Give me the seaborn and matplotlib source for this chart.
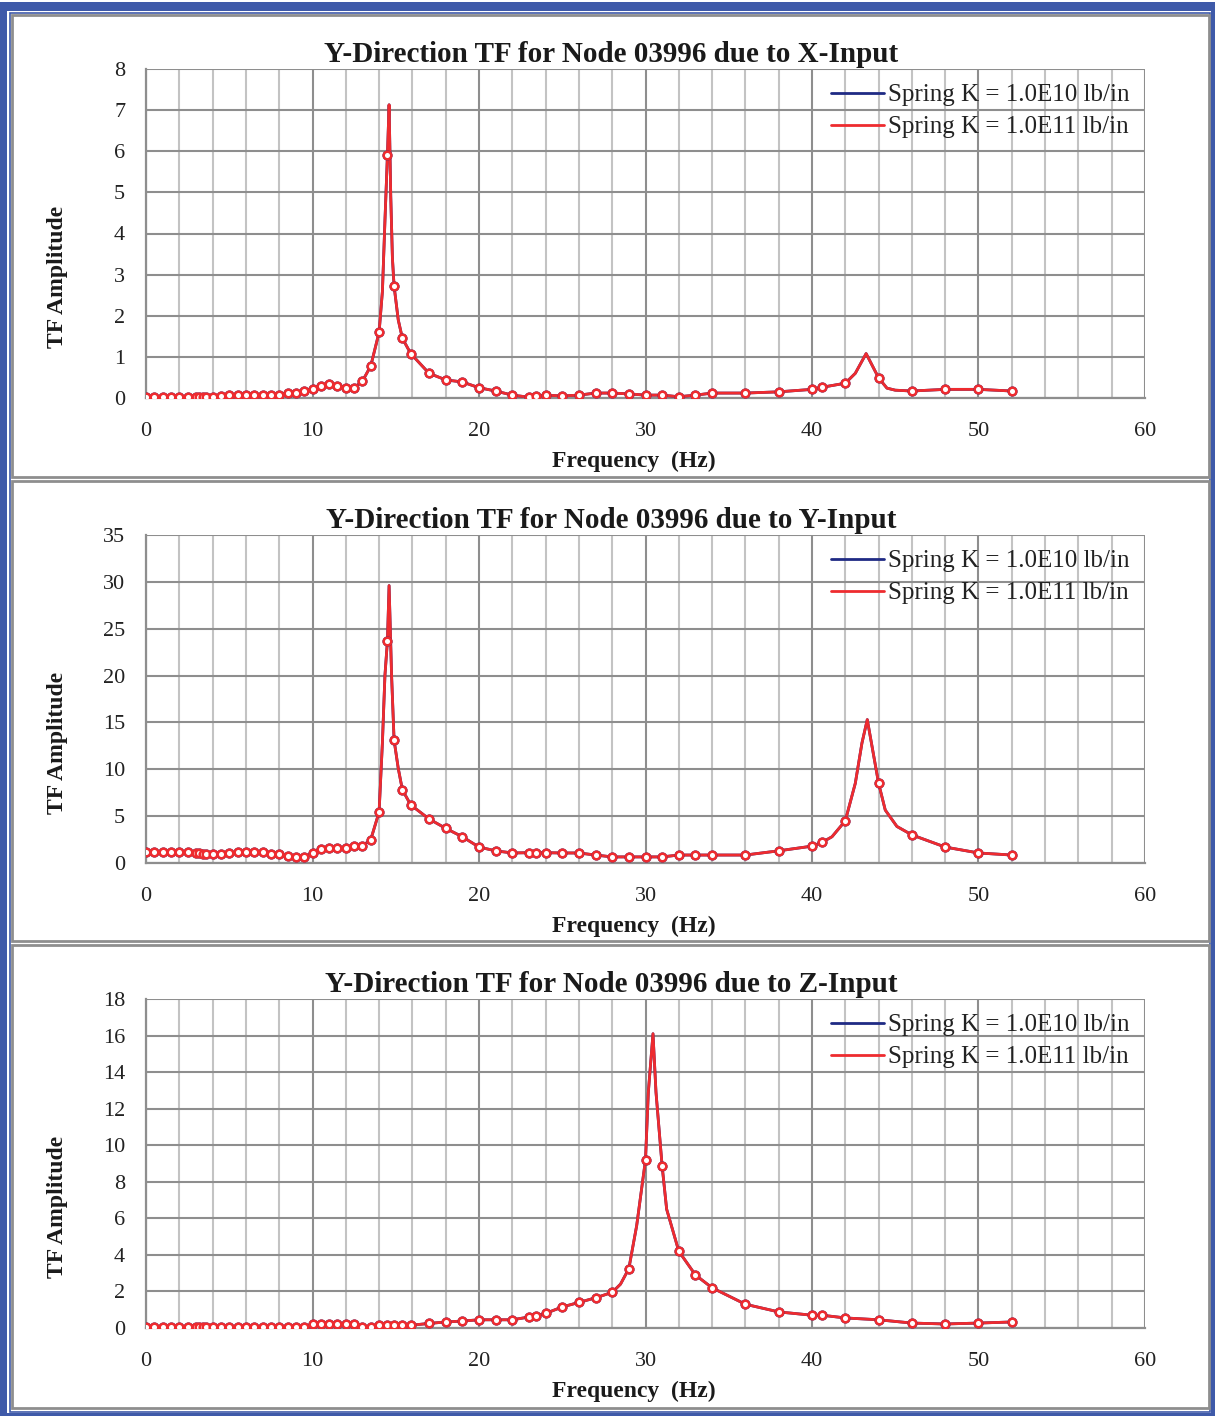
import numpy as np
import pandas as pd
import matplotlib
matplotlib.use("Agg")
import matplotlib.pyplot as plt
from matplotlib.patches import Rectangle
import seaborn as sns

# ---------------- data ----------------
freq = [0, 0.5, 1, 1.5, 2, 2.5, 3, 3.2, 3.4, 3.6, 4, 4.5, 5, 5.5, 6, 6.5, 7, 7.5, 8,
        8.5, 9, 9.5, 10, 10.5, 11, 11.5, 12, 12.5, 13, 13.5, 14, 14.5, 14.9, 15.4, 15.9,
        17, 18, 19, 20, 21, 22, 23, 23.4, 24, 25, 26, 27, 28, 29, 30, 31, 32, 33, 34,
        36, 38, 40, 40.6, 42, 44, 46, 48, 50, 52]

# X-input
amp_x_k11 = [0.02, 0.03, 0.03, 0.03, 0.03, 0.03, 0.03, 0.03, 0.03, 0.03, 0.03, 0.04, 0.08, 0.08,
             0.07, 0.07, 0.07, 0.07, 0.08, 0.12, 0.13, 0.18, 0.22, 0.30, 0.35, 0.30, 0.25, 0.25,
             0.41, 0.78, 1.60, 5.90, 2.72, 1.45, 1.08, 0.60, 0.44, 0.39, 0.25, 0.17, 0.07, 0.02,
             0.04, 0.07, 0.05, 0.07, 0.12, 0.12, 0.10, 0.07, 0.07, 0.03, 0.07, 0.12, 0.12, 0.15,
             0.21, 0.26, 0.36, 0.49, 0.17, 0.21, 0.21, 0.17]
amp_x_k10 = list(amp_x_k11)
peak_x_freq = [14.2, 14.35, 14.6, 14.7, 14.8, 15.15, 42.6, 43.25, 44.5, 45.0]
peak_x_amp = [2.6, 4.3, 7.13, 4.9, 3.4, 1.9, 0.60, 1.08, 0.24, 0.19]

# Y-input
amp_y_k11 = [1.17, 1.17, 1.17, 1.17, 1.17, 1.17, 1.10, 1.05, 1.00, 1.00, 0.95, 0.95, 1.03, 1.17,
             1.17, 1.17, 1.17, 0.95, 0.95, 0.74, 0.67, 0.67, 1.03, 1.46, 1.57, 1.57, 1.57, 1.81,
             1.81, 2.50, 5.45, 23.7, 13.1, 7.8, 6.2, 4.7, 3.7, 2.8, 1.7, 1.3, 1.07, 1.10,
             1.10, 1.10, 1.07, 1.07, 0.85, 0.65, 0.65, 0.65, 0.65, 0.85, 0.85, 0.85, 0.85, 1.30,
             1.80, 2.20, 4.50, 8.50, 3.00, 1.70, 1.07, 0.85]
amp_y_k10 = list(amp_y_k11)
peak_y_freq = [14.2, 14.35, 14.6, 14.75, 15.15, 41.2, 42.6, 43.0, 43.32, 44.4, 45.1]
peak_y_amp = [12.9, 20.0, 29.6, 20.0, 10.1, 2.8, 8.5, 12.8, 15.3, 5.65, 3.9]

# Z-input
amp_z_k11 = [0.07, 0.07, 0.07, 0.07, 0.07, 0.07, 0.07, 0.07, 0.07, 0.07, 0.07, 0.07, 0.07, 0.07,
             0.07, 0.07, 0.07, 0.07, 0.07, 0.07, 0.07, 0.08, 0.20, 0.22, 0.22, 0.22, 0.22, 0.20,
             0.03, 0.05, 0.15, 0.18, 0.18, 0.15, 0.15, 0.25, 0.33, 0.38, 0.45, 0.45, 0.45, 0.60,
             0.65, 0.80, 1.15, 1.40, 1.65, 1.95, 3.25, 9.20, 8.85, 4.20, 2.90, 2.20, 1.30, 0.88,
             0.70, 0.70, 0.55, 0.45, 0.27, 0.22, 0.27, 0.33]
amp_z_k10 = list(amp_z_k11)
peak_z_freq = [28.5, 29.47, 30.17, 30.45, 30.63, 31.27]
peak_z_amp = [2.4, 5.6, 12.9, 16.1, 12.9, 6.5]

series_names = ["Spring K = 1.0E10 lb/in", "Spring K = 1.0E11 lb/in"]
titles = ["Y-Direction TF for Node 03996 due to X-Input",
          "Y-Direction TF for Node 03996 due to Y-Input",
          "Y-Direction TF for Node 03996 due to Z-Input"]
y_max = [8, 35, 18]
y_step = [1, 5, 2]
x_ticks = [0, 10, 20, 30, 40, 50, 60]

panels = [
    (amp_x_k10, amp_x_k11, peak_x_freq, peak_x_amp),
    (amp_y_k10, amp_y_k11, peak_y_freq, peak_y_amp),
    (amp_z_k10, amp_z_k11, peak_z_freq, peak_z_amp),
]

# ---------------- style ----------------
sns.set_theme(style="white")
plt.rcParams["font.family"] = ["Liberation Serif", "DejaVu Serif"]

BLUE = "#1f2a84"
RED = "#ee2b2f"
GRID_DARK = "#8e8e8e"
GRID_LIGHT = "#c3c3c3"
FRAME_BLUE = "#3f5aa9"
TXT = "#1a1a1a"

W, H = 1215, 1416
fig = plt.figure(figsize=(W / 100, H / 100), dpi=100)


def px_rect(x0, y0, x1, y1, **kw):
    r = Rectangle((x0 / W, 1 - y1 / H), (x1 - x0) / W, (y1 - y0) / H,
                  transform=fig.transFigure, **kw)
    fig.add_artist(r)
    return r


# page border
px_rect(0, 2, W, H, facecolor=FRAME_BLUE, edgecolor="none", zorder=-10)
px_rect(7, 11, W - 4, H - 3, facecolor="white", edgecolor="none", zorder=-9)
px_rect(9.5, 13, W - 5, H - 4.5, facecolor="none", edgecolor=FRAME_BLUE, linewidth=1.2, zorder=-8)

# panel frames
frames = [(12, 15, 1209, 477), (12, 481, 1209, 941), (12, 945, 1209, 1408)]
for fr in frames:
    px_rect(*fr, facecolor="none", edgecolor=GRID_DARK, linewidth=2.0, zorder=-7)

ax_tops = [69, 535, 999]
ax_bottoms = [398, 863, 1328]
ax_left, ax_right = 146, 1145
span = ax_right - ax_left

for i, (a10, a11, pf, pa) in enumerate(panels):
    ax = fig.add_axes([ax_left / W, 1 - ax_bottoms[i] / H,
                       span / W, (ax_bottoms[i] - ax_tops[i]) / H])
    ax.set_facecolor("none")
    hgt = ax_bottoms[i] - ax_tops[i]

    # marker data
    mk = pd.DataFrame({
        "freq": freq * 2,
        "amp": a10 + a11,
        "series": [series_names[0]] * len(freq) + [series_names[1]] * len(freq),
    })
    # line data = markers + extra curve readings near peaks
    extra = pd.DataFrame({
        "freq": pf * 2,
        "amp": pa * 2,
        "series": [series_names[0]] * len(pf) + [series_names[1]] * len(pf),
    })
    ln = pd.concat([mk, extra], ignore_index=True).sort_values(["series", "freq"])

    sns.lineplot(data=ln, x="freq", y="amp", hue="series", hue_order=series_names,
                 palette=[BLUE, RED], estimator=None, sort=True, linewidth=2.0,
                 ax=ax, zorder=3)
    for name, col in zip(series_names, [BLUE, RED]):
        sub = mk[mk["series"] == name]
        sns.scatterplot(data=sub, x="freq", y="amp", marker="o", s=30,
                        facecolor="white", edgecolor=col, linewidth=1.8,
                        ax=ax, zorder=4, legend=False)

    ax.set_xlim(0, 60)
    ax.set_ylim(0, y_max[i])
    yt = np.arange(0, y_max[i] + 0.1, y_step[i])
    ax.set_xticks(x_ticks)
    ax.set_xticks(np.arange(0, 61, 2), minor=True)
    ax.set_yticks(yt)
    ax.set_xticklabels([str(t) for t in x_ticks])
    ax.set_yticklabels([str(int(t)) for t in yt])

    ax.set_axisbelow(True)
    ax.grid(True, which="major", axis="both", color=GRID_DARK, linewidth=1.5)
    ax.grid(True, which="minor", axis="x", color=GRID_LIGHT, linewidth=1.5)

    for s in ["top", "right"]:
        ax.spines[s].set_visible(False)
    for s in ["left", "bottom"]:
        ax.spines[s].set_color(GRID_DARK)
        ax.spines[s].set_linewidth(1.6)

    ax.tick_params(axis="both", which="major", direction="out", length=5, width=1.5,
                   color=GRID_DARK, labelsize=16, labelcolor="#222222")
    ax.tick_params(axis="x", which="major", pad=12)
    ax.tick_params(axis="y", which="major", pad=10)
    ax.tick_params(axis="x", which="minor", length=0)

    ax.set_title(titles[i], fontsize=21, fontweight="bold", pad=5, color=TXT,
                 x=(611 - ax_left) / span)
    ax.set_xlabel("Frequency  (Hz)", fontsize=17, fontweight="bold", color=TXT)
    ax.xaxis.set_label_coords((634 - ax_left) / span, -63 / hgt)
    ax.set_ylabel("TF Amplitude", fontsize=17, fontweight="bold", color=TXT)
    ax.yaxis.set_label_coords((57 - ax_left) / span, 0.367)
    ax.xaxis.label.set_verticalalignment("center")
    ax.yaxis.label.set_verticalalignment("center")

    leg = ax.legend(loc="upper right", bbox_to_anchor=(1.0, 1.0), frameon=False,
                    fontsize=18, handlelength=2.1, handletextpad=0.2,
                    labelspacing=0.38, borderaxespad=0.35, borderpad=0.25)
    for h in leg.get_lines():
        h.set_linewidth(2.0)
    for t in leg.get_texts():
        t.set_color("#222222")

fig.savefig("out.png", dpi=100)
